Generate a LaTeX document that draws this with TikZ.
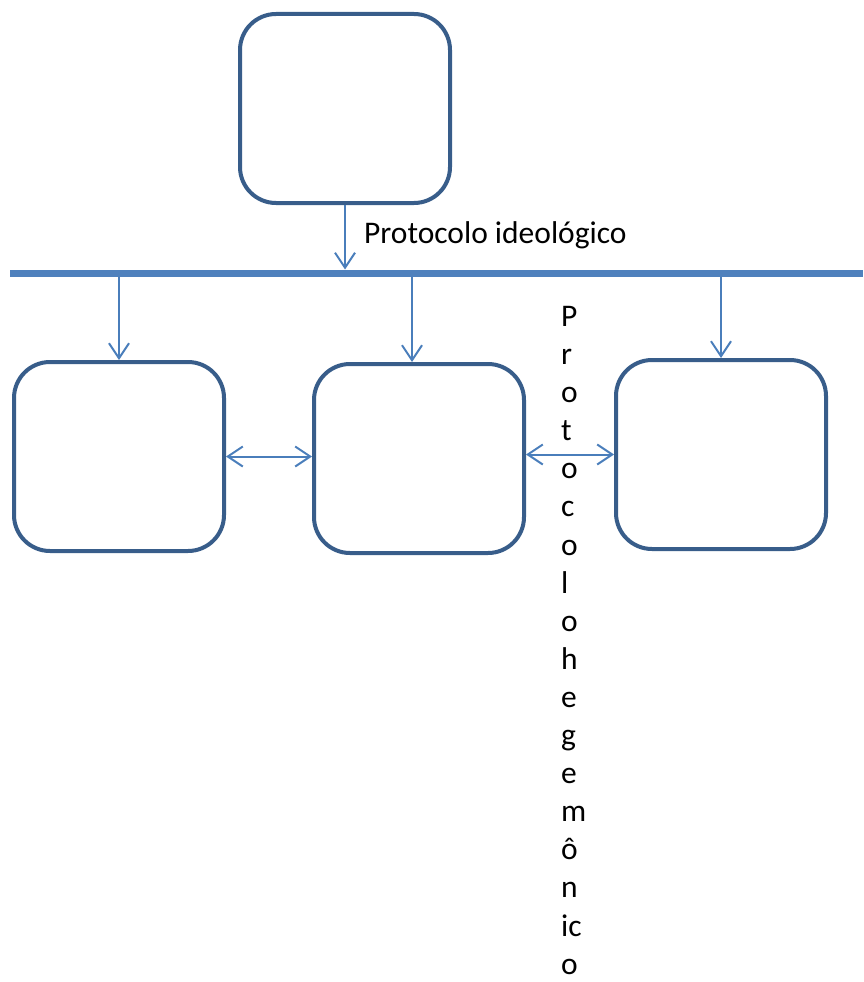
\documentclass[tikz,border=0pt]{standalone}
\usepackage{fontspec}
\setmainfont{Carlito}
\usetikzlibrary{arrows.meta, positioning, calc}
\definecolor{boxblue}{HTML}{385D8A}
\definecolor{linkblue}{HTML}{4A7EBB}
\definecolor{busblue}{HTML}{4F81BD}

\begin{document}
\begin{tikzpicture}[
    x=1pt, y=-1pt,
    every node/.style={font=\fontsize{31.5}{38.1}\selectfont},
    unit/.style={draw=boxblue, line width=4pt, rounded corners=36pt, fill=white, minimum width=210pt, minimum height=189pt, inner sep=0pt},
    bus/.style={busblue, line width=7pt},
    link/.style={-{Straight Barb[length=15pt, width=20pt]}, line width=2pt, linkblue},
    twoway/.style={{Straight Barb[length=15pt, width=20pt]}-{Straight Barb[length=15pt, width=20pt]}, line width=2pt, linkblue}
  ]
  \useasboundingbox (0,0) rectangle (863,982);
  \node[unit] (top) at (345,108.5) {};
  \node[unit] (left) at (119,456.5) {};
  \node[unit] (mid) at (419,458.5) {};
  \node[unit] (right) at (721,454.5) {};
  \coordinate (busL) at (10,273);
  \coordinate (busR) at (863,273);
  \draw[bus] (busL) -- (busR);
  \node[anchor=base west, inner sep=0pt] (ideo) at (364,243) {Protocolo ideológico};
  \node[anchor=north west, align=left, inner sep=0pt] (hege) at (561,306) {P\\r\\o\\t\\o\\c\\o\\l\\o\\h\\e\\g\\e\\m\\ô\\n\\ic\\o};
  \draw[link] (top.south) -- ($(top.south |- busL)+(0,-3.5)$);
  \draw[link] ($(left.north |- busL)+(0,3.5)$) -- (left.north);
  \draw[link] ($([xshift=-7pt]mid.north |- busL)+(0,3.5)$) -- ([xshift=-7pt]mid.north);
  \draw[link] ($(right.north |- busL)+(0,3.5)$) -- (right.north);
  \draw[twoway] (left.east) -- (left.east -| mid.west);
  \draw[twoway] (right.west -| mid.east) -- (right.west);
\end{tikzpicture}
\end{document}
